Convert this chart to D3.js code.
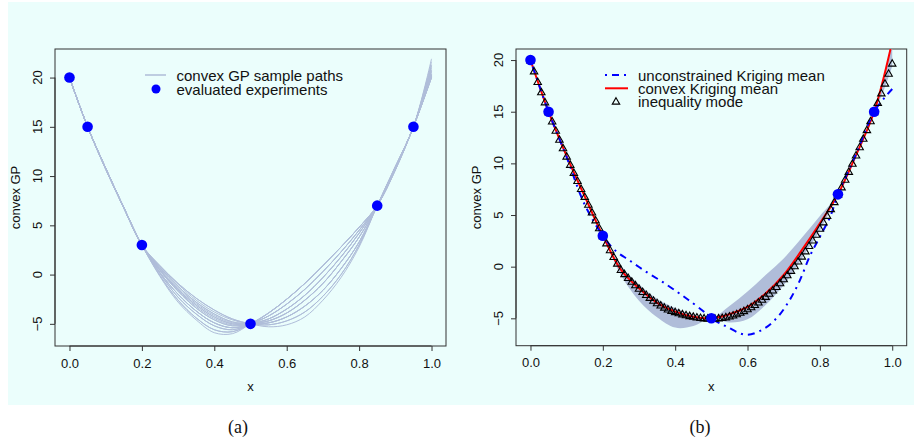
<!DOCTYPE html>
<html>
<head>
<meta charset="utf-8">
<script src="https://cdn.jsdelivr.net/npm/d3@7"></script>
<style>
  html, body { margin: 0; padding: 0; background: #ffffff; }
  svg { display: block; }
  text { font-family: "Liberation Sans", Arial, sans-serif; fill: #111; }
</style>
</head>
<body>
<svg id="chart" width="914" height="444"></svg>
<script>
// ---------------- data ----------------
const xTicks = [0, 0.2, 0.4, 0.6, 0.8, 1.0];
const yTicks = [-5, 0, 5, 10, 15, 20];
const obsX = [0, 0.05, 0.2, 0.5, 0.85, 0.95];
const obsY = [20, 15, 3, -5, 7, 15];

const gridX = [0, 0.05, 0.1, 0.15, 0.2, 0.25, 0.3, 0.35, 0.4, 0.45, 0.5,
               0.55, 0.6, 0.65, 0.7, 0.75, 0.8, 0.85, 0.9, 0.95, 1.0];

// convex GP sample paths (values on gridX)
const samplePaths = [
  [20, 15, 10.8, 6.8, 3, 0.9, -0.9, -2.4, -3.6, -4.5, -5, -5.3, -5.1, -4.3, -2.6, -0.3, 2.8, 7, 11.0, 15, 21.9],
  [20, 15, 10.75, 6.75, 3, 0.9, -0.9, -2.4, -3.6, -4.5, -5, -5.1, -4.7, -3.8, -2.2, 0.0, 3.0, 7, 10.95, 15, 21.6],
  [20, 15, 10.8, 6.8, 3, 0.8, -1.0, -2.6, -3.8, -4.6, -5, -4.9, -4.3, -3.2, -1.6, 0.6, 3.3, 7, 10.9, 15, 21.2],
  [20, 15, 10.8, 6.85, 3, 0.7, -1.2, -2.8, -4.0, -4.8, -5, -5.1, -4.7, -3.8, -2.2, 0.0, 3.0, 7, 10.9, 15, 21.3],
  [20, 15, 10.7, 6.8, 3, 0.7, -1.2, -2.8, -4.0, -4.8, -5, -4.9, -4.3, -3.2, -1.6, 0.6, 3.3, 7, 10.9, 15, 21.0],
  [20, 15, 10.75, 6.8, 3, 0.6, -1.35, -2.95, -4.15, -4.9, -5, -4.7, -3.9, -2.6, -0.9, 1.3, 3.8, 7, 10.8, 15, 20.7],
  [20, 15, 10.8, 6.8, 3, 0.5, -1.5, -3.1, -4.3, -5.0, -5, -4.9, -4.3, -3.2, -1.6, 0.6, 3.3, 7, 10.85, 15, 20.8],
  [20, 15, 10.75, 6.8, 3, 0.5, -1.5, -3.1, -4.3, -5.0, -5, -4.7, -3.9, -2.6, -0.9, 1.3, 3.8, 7, 10.8, 15, 20.6],
  [20, 15, 10.7, 6.75, 3, 0.45, -1.6, -3.25, -4.45, -5.1, -5, -4.5, -3.5, -2.1, -0.3, 1.8, 4.2, 7, 10.75, 15, 20.3],
  [20, 15, 10.8, 6.8, 3, 0.4, -1.7, -3.4, -4.6, -5.2, -5, -4.7, -3.9, -2.6, -0.9, 1.3, 3.8, 7, 10.8, 15, 20.4],
  [20, 15, 10.7, 6.75, 3, 0.4, -1.7, -3.4, -4.6, -5.2, -5, -4.5, -3.5, -2.1, -0.3, 1.8, 4.2, 7, 10.75, 15, 20.3],
  [20, 15, 10.8, 6.8, 3, 0.2, -2.0, -3.7, -4.9, -5.4, -5, -4.5, -3.5, -2.1, -0.3, 1.8, 4.2, 7, 10.75, 15, 20.2],
  [20, 15, 10.75, 6.8, 3, 0.2, -2.0, -3.7, -4.9, -5.4, -5, -4.2, -3.0, -1.5, 0.3, 2.3, 4.5, 7, 10.7, 15, 20.1],
  [20, 15, 10.8, 6.8, 3, 0.2, -2.0, -3.7, -4.9, -5.4, -5, -3.9, -2.5, -0.9, 0.9, 2.8, 4.8, 7, 10.65, 15, 20.0],
  [20, 15, 10.8, 6.75, 3, 0.1, -2.3, -4.0, -5.2, -5.6, -5, -4.2, -3.0, -1.5, 0.3, 2.3, 4.5, 7, 10.7, 15, 20.0],
  [20, 15, 10.7, 6.8, 3, 0.1, -2.3, -4.0, -5.2, -5.6, -5, -3.9, -2.5, -0.9, 0.9, 2.8, 4.8, 7, 10.65, 15, 20.0],
  [20, 15, 10.8, 6.8, 3, -0.1, -2.6, -4.4, -5.6, -5.8, -5, -3.9, -2.5, -0.9, 0.9, 2.8, 4.8, 7, 10.6, 15, 20.1],
  [20, 15, 10.75, 6.8, 3, -0.1, -2.6, -4.4, -5.6, -5.8, -5, -4.2, -3.0, -1.5, 0.3, 2.3, 4.5, 7, 10.7, 15, 20.1],
  [20, 15, 10.75, 6.8, 3, -0.2, -2.8, -4.6, -5.9, -6.0, -5, -3.9, -2.5, -0.9, 0.9, 2.8, 4.8, 7, 10.6, 15, 20.2]
];

// convex Kriging mean (values on gridX)
const convexMean = [20, 15, 10.7, 6.8, 3, -0.3, -2.1, -3.5, -4.35, -4.85, -5,
                    -4.6, -3.9, -2.6, -0.8, 1.6, 4.2, 7, 10.8, 15, 21.8];

// unconstrained Kriging mean
const uncX = [0, 0.05, 0.1, 0.15, 0.2, 0.233, 0.274, 0.32, 0.366, 0.408, 0.436, 0.477, 0.5,
              0.542, 0.597, 0.647, 0.684, 0.717, 0.745, 0.772, 0.8, 0.828, 0.85, 0.9, 0.95, 0.98, 1.0];
const uncY = [20, 15, 10.6, 6.0, 3, 1.6, 0.6, -0.5, -1.5, -2.5, -3.2, -4.3, -5,
              -5.8, -6.6, -5.97, -4.84, -3.2, -1.3, 1.0, 2.9, 4.8, 7, 10.9, 15, 16.4, 17.2];

// confidence band (on bandX)
const bandX = [0, 0.05, 0.1, 0.15, 0.2, 0.25, 0.3, 0.35, 0.4, 0.45, 0.5, 0.55, 0.6, 0.65,
               0.7, 0.75, 0.8, 0.85, 0.9, 0.95, 0.975, 1.0];
const bandUpper = [20, 15, 10.8, 6.85, 3, 0.1, -1.7, -3.1, -4.0, -4.65, -5, -3.8, -2.4, -0.8,
                   0.8, 2.8, 4.9, 7, 10.9, 15, 17.8, 22.4];
const bandLower = [20, 15, 10.6, 6.75, 3, -0.8, -3.3, -4.9, -5.9, -5.75, -5, -5.4, -5.1, -3.7,
                   -1.8, 0.8, 3.5, 7, 10.7, 15, 16.9, 19.4];

// inequality mode at x = 0, 0.01, ..., 1
const modeY = [20, 18.95, 17.92, 16.92, 15.95, 15.0, 14.1, 13.2, 12.33, 11.5, 10.7,
  9.9, 9.12, 8.34, 7.56, 6.8, 6.04, 5.28, 4.52, 3.76, 3.0,
  2.3, 1.63, 0.98, 0.34, -0.28, -0.68, -1.05, -1.41, -1.76, -2.1,
  -2.41, -2.7, -2.98, -3.25, -3.5, -3.72, -3.92, -4.1, -4.24, -4.36,
  -4.47, -4.57, -4.66, -4.74, -4.81, -4.87, -4.92, -4.96, -4.99, -5.0,
  -4.99, -4.96, -4.92, -4.86, -4.78, -4.68, -4.56, -4.42, -4.26, -4.08,
  -3.88, -3.66, -3.42, -3.16, -2.88, -2.58, -2.26, -1.92, -1.56, -1.18,
  -0.78, -0.36, 0.08, 0.54, 1.02, 1.52, 2.04, 2.58, 3.14, 3.72,
  4.33, 4.96, 5.61, 6.29, 7.0, 7.72, 8.46, 9.22, 10.0, 10.8,
  11.6, 12.42, 13.26, 14.12, 15.0, 15.9, 16.82, 17.76, 18.72, 19.7];
const modeX = d3.range(modeY.length).map(i => i / 100);

const legendA = ["convex GP sample paths", "evaluated experiments"];
const legendB = ["unconstrained Kriging mean", "convex Kriging mean", "inequality mode"];
const captions = ["(a)", "(b)"];

// ---------------- drawing ----------------
const svg = d3.select("#chart");
const BG = "#ebfefc";
const SAMPLE = "#afbdd9";
const BAND = "#b0bdd9";

svg.append("rect").attr("x", 8).attr("y", 2).attr("width", 906).attr("height", 403).attr("fill", BG);

function panel(id, xr, yr, ydom) {
  const x = d3.scaleLinear().domain([-0.04, 1.04]).range(xr);
  const y = d3.scaleLinear().domain(ydom).range(yr);
  const g = svg.append("g");
  g.append("clipPath").attr("id", id).append("rect")
    .attr("x", xr[0]).attr("y", yr[1]).attr("width", xr[1] - xr[0]).attr("height", yr[0] - yr[1]);
  const xa = g.append("g").attr("transform", `translate(0,${yr[0]})`)
    .call(d3.axisBottom(x).tickValues(xTicks).tickFormat(d3.format(".1f")).tickSize(5).tickSizeOuter(0));
  xa.select(".domain").attr("d", `M${x(0)},0H${x(1)}`).attr("stroke", "#333");
  xa.selectAll(".tick line").attr("stroke", "#333");
  xa.selectAll("text").attr("font-size", 13).attr("font-family", "Liberation Sans, Arial, sans-serif")
    .attr("fill", "#111").attr("dy", "1.05em");
  const ya = g.append("g").attr("transform", `translate(${xr[0]},0)`)
    .call(d3.axisLeft(y).tickValues(yTicks).tickSize(5).tickSizeOuter(0));
  ya.select(".domain").attr("d", `M0,${y(-5)}V${y(20)}`).attr("stroke", "#333");
  ya.selectAll(".tick line").attr("stroke", "#333");
  ya.selectAll(".tick text").remove();
  yTicks.forEach(v => {
    g.append("text").attr("transform", `translate(${xr[0] - 18},${y(v)}) rotate(-90)`)
      .attr("text-anchor", "middle").attr("dominant-baseline", "central")
      .attr("font-size", 13).text(v < 0 ? "\u2212" + Math.abs(v) : v);
  });
  g.append("rect").attr("x", xr[0]).attr("y", yr[1]).attr("width", xr[1] - xr[0]).attr("height", yr[0] - yr[1])
    .attr("fill", "none").attr("stroke", "#333").attr("stroke-width", 1);
  g.append("text").attr("x", x(0.5)).attr("y", 391).attr("text-anchor", "middle").attr("font-size", 13).text("x");
  g.append("text").attr("transform", `translate(${xr[0] - 40},${(yr[0] + yr[1]) / 2}) rotate(-90)`)
    .attr("text-anchor", "middle").attr("dominant-baseline", "central").attr("font-size", 13).text("convex GP");
  const plot = g.append("g").attr("clip-path", `url(#${id})`);
  return { x, y, g, plot };
}

// ---- panel (a)
const A = panel("clipA", [55, 446], [346, 49], [-7.25, 22.9]);
const lineA = d3.line().x((d, i) => A.x(gridX[i])).y(d => A.y(d)).curve(d3.curveCatmullRom.alpha(0.5));
A.plot.selectAll("path.sample").data(samplePaths).join("path")
  .attr("class", "sample").attr("d", lineA).attr("fill", "none").attr("stroke", SAMPLE).attr("stroke-width", 1);
A.plot.selectAll("circle").data(obsX).join("circle")
  .attr("cx", d => A.x(d)).attr("cy", (d, i) => A.y(obsY[i])).attr("r", 5.3).attr("fill", "#0000ff");

A.g.append("line").attr("x1", 145).attr("x2", 166).attr("y1", 75).attr("y2", 75).attr("stroke", SAMPLE).attr("stroke-width", 1.5);
A.g.append("circle").attr("cx", 156).attr("cy", 89).attr("r", 4.5).attr("fill", "#0000ff");
legendA.forEach((t, i) => {
  A.g.append("text").attr("x", 176.5).attr("y", 75 + i * 14).attr("dominant-baseline", "central")
    .attr("font-size", 15).text(t);
});

// ---- panel (b)
const B = panel("clipB", [516, 906.7], [345.7, 49], [-7.65, 21.07]);
const area = d3.area().x((d, i) => B.x(bandX[i])).y0((d, i) => B.y(bandLower[i])).y1(d => B.y(d))
  .curve(d3.curveCatmullRom.alpha(0.5));
B.plot.append("path").datum(bandUpper).attr("d", area).attr("fill", BAND);
const lineB = d3.line().x((d, i) => B.x(gridX[i])).y(d => B.y(d)).curve(d3.curveCatmullRom.alpha(0.5));
B.plot.append("path").datum(convexMean).attr("d", lineB).attr("fill", "none").attr("stroke", "#ff0000").attr("stroke-width", 2);
const lineU = d3.line().x((d, i) => B.x(uncX[i])).y(d => B.y(d)).curve(d3.curveCatmullRom.alpha(0.5));
B.plot.append("path").datum(uncY).attr("d", lineU).attr("fill", "none").attr("stroke", "#0000ff")
  .attr("stroke-width", 2).attr("stroke-dasharray", "2,5,7,5");
const tri = d3.symbol().type(d3.symbolTriangle).size(24);
B.plot.selectAll("path.tri").data(modeY).join("path").attr("class", "tri")
  .attr("transform", (d, i) => `translate(${B.x(modeX[i])},${B.y(d) + 0.8})`)
  .attr("d", tri).attr("fill", "none").attr("stroke", "#000").attr("stroke-width", 1.1);
B.plot.selectAll("circle").data(obsX).join("circle")
  .attr("cx", d => B.x(d)).attr("cy", (d, i) => B.y(obsY[i])).attr("r", 5.3).attr("fill", "#0000ff");

B.g.append("line").attr("x1", 605).attr("x2", 628).attr("y1", 75).attr("y2", 75).attr("stroke", "#0000ff")
  .attr("stroke-width", 2).attr("stroke-dasharray", "2,5,7,5");
B.g.append("line").attr("x1", 605).attr("x2", 628).attr("y1", 88.3).attr("y2", 88.3).attr("stroke", "#ff0000").attr("stroke-width", 2);
B.g.append("path").attr("transform", "translate(616,102)").attr("d", tri).attr("fill", "none").attr("stroke", "#000").attr("stroke-width", 1.1);
legendB.forEach((t, i) => {
  B.g.append("text").attr("x", 638).attr("y", 75 + i * 13.4).attr("dominant-baseline", "central")
    .attr("font-size", 15).text(t);
});

[[238, captions[0]], [700, captions[1]]].forEach(([cx, t]) => {
  svg.append("text").attr("x", cx).attr("y", 433).attr("text-anchor", "middle")
    .style("font-family", "'Liberation Serif', 'DejaVu Serif', serif").attr("font-size", 18).text(t);
});
</script>
</body>
</html>
